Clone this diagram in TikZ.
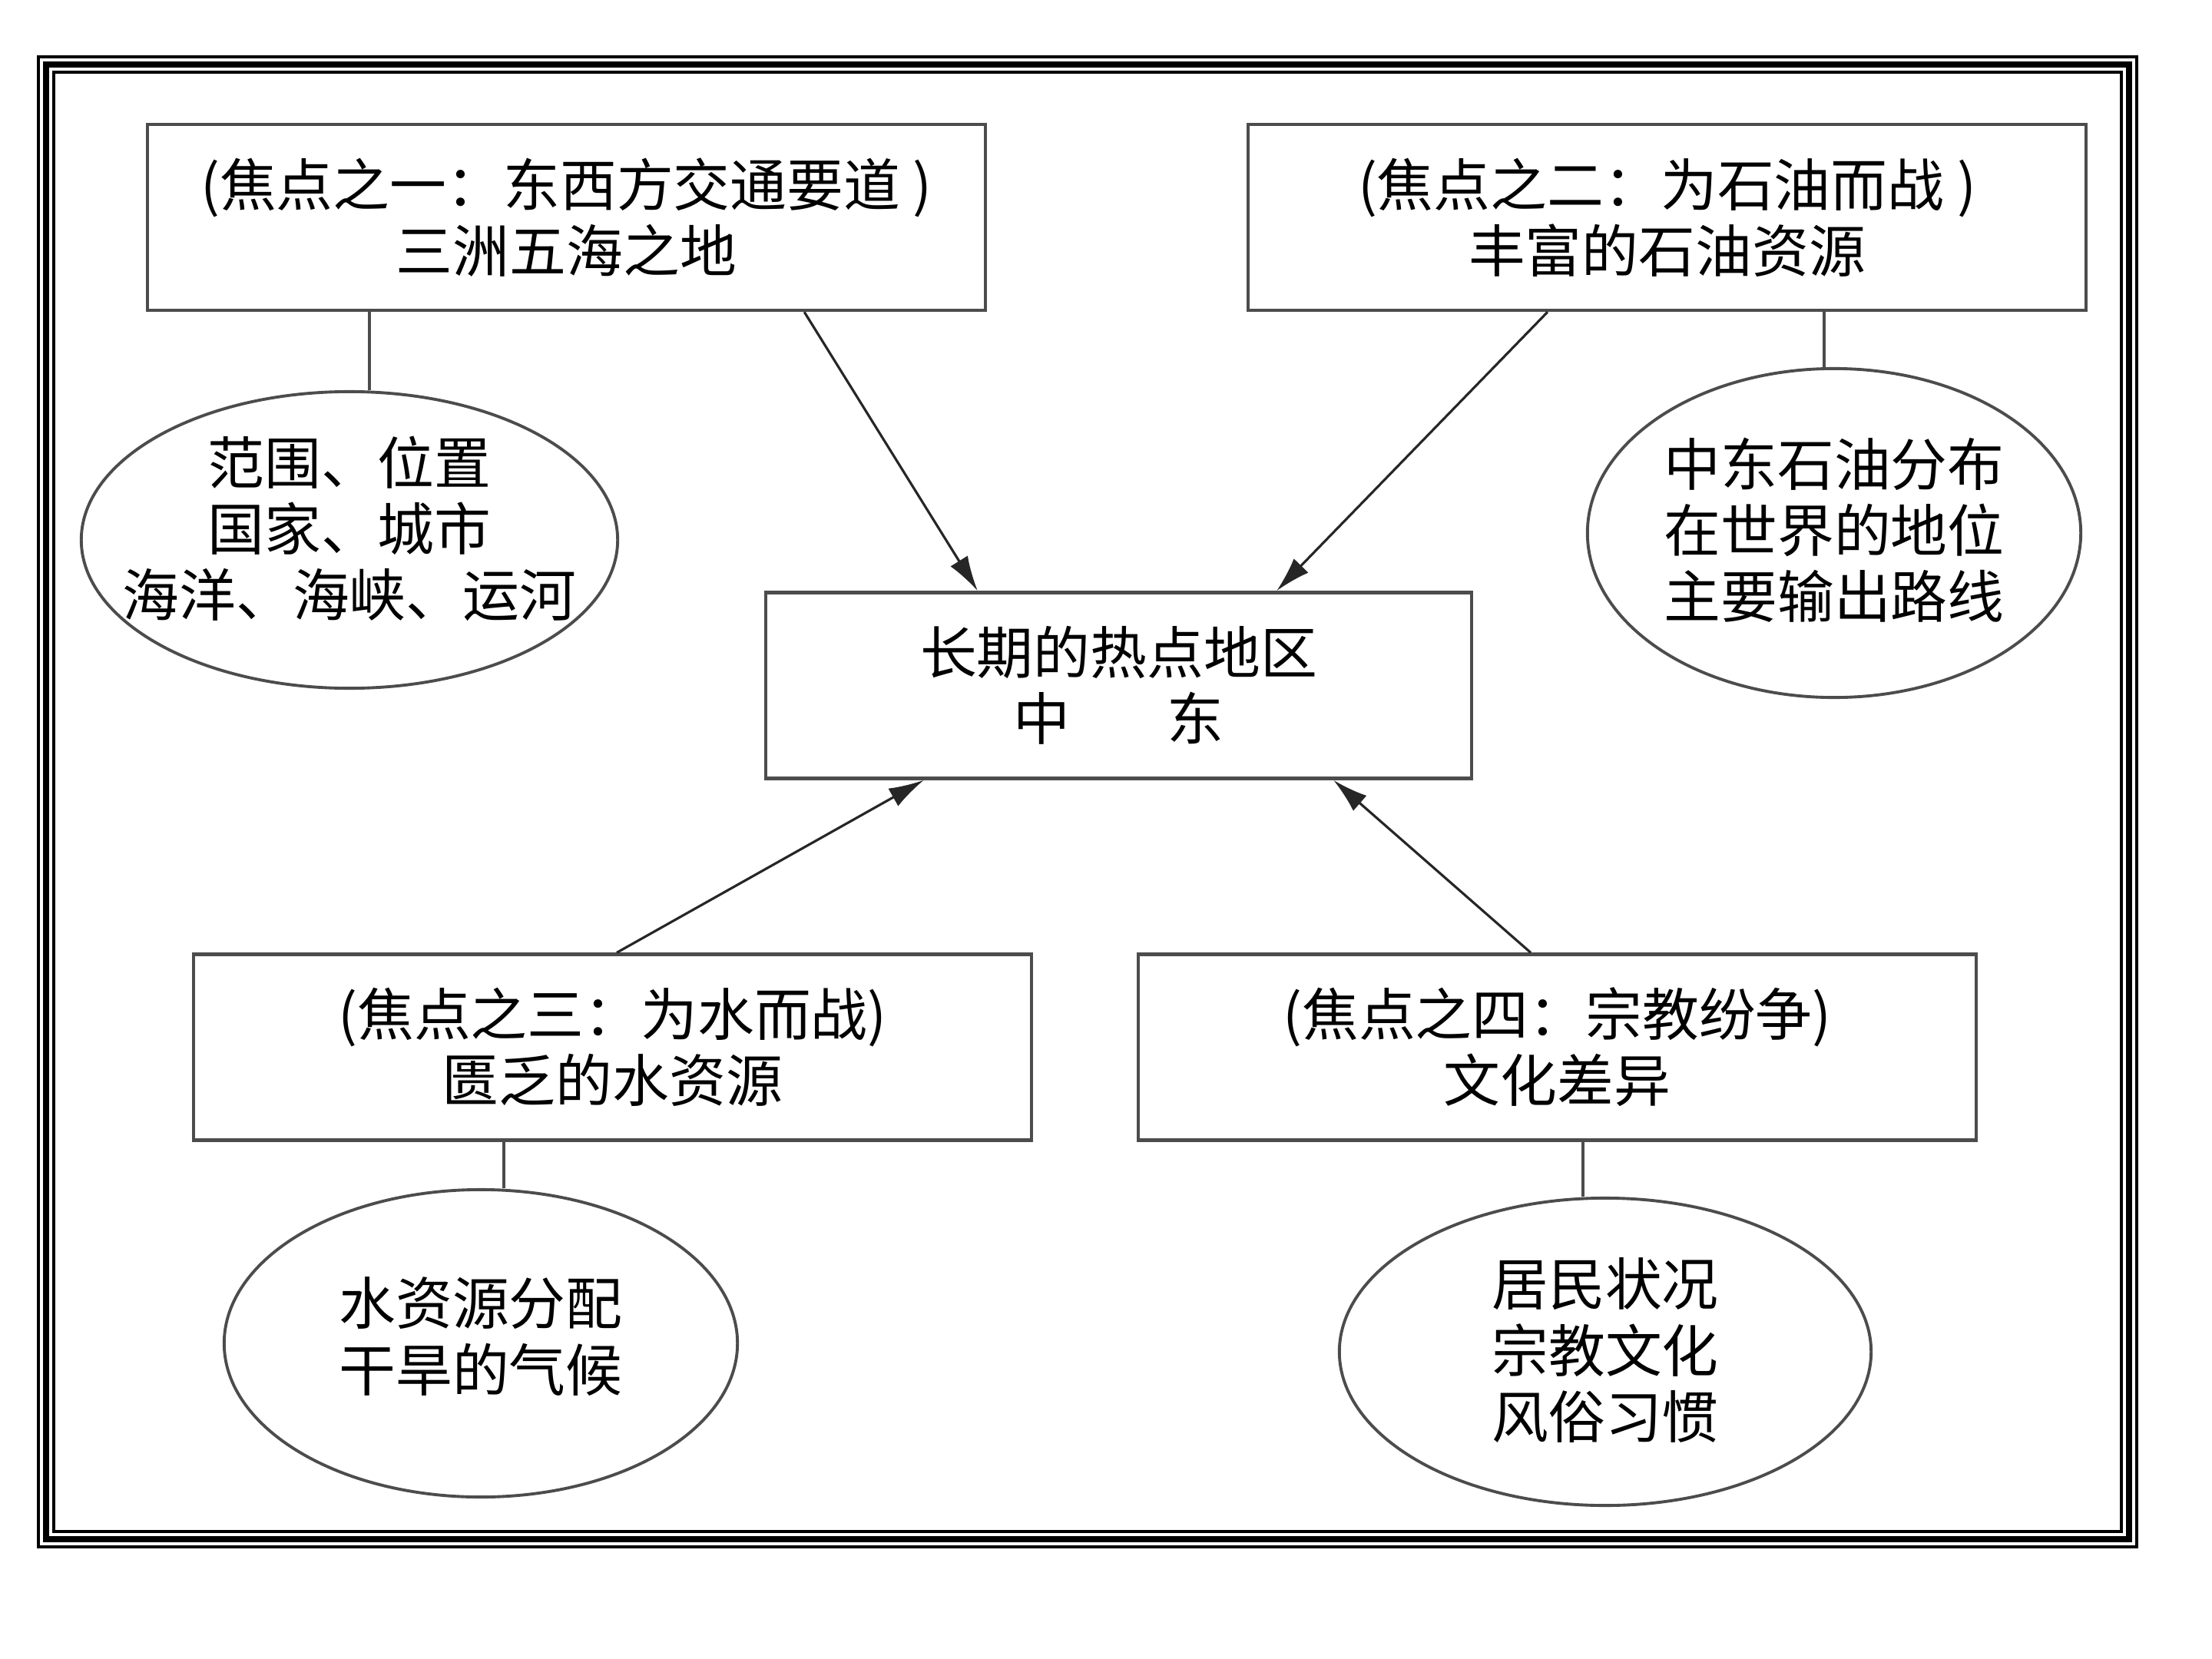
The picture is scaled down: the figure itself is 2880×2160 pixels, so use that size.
\documentclass[tikz,border=0pt]{standalone}
\usepackage{fontspec}
\setmainfont{Noto Sans CJK SC}
\usetikzlibrary{shapes.geometric,arrows.meta}

\begin{document}
\begin{tikzpicture}[x=0.01cm, y=-0.01cm,
      font=\fontsize{21pt}{24.5pt}\selectfont,
      box/.style={draw=black!70, line width=1.2pt, minimum width=10.9cm, minimum height=2.42cm, align=center, inner sep=0pt},
      oval/.style={draw=black!70, line width=1.1pt, ellipse, inner sep=0pt},
      txt/.style={align=center, inner sep=0pt},
      pfeil/.style={-{Latex[length=13pt,width=7.5pt]}, line width=0.9pt, draw=black!85},
      stiel/.style={line width=1pt, draw=black!70}
    ]
      \useasboundingbox (0,0) rectangle (2880,2160);
      % frame
      \draw[line width=0.04cm] (50.3,74.3) rectangle (2782,2013.7);
      \draw[line width=0.08cm] (60,83.7) rectangle (2772,2004);
      \draw[line width=0.04cm] (70,93.7) rectangle (2762,1993.7);

      \node[box] (eins) at (737.5,283) {(焦点之一：东西方交通要道 )\\三洲五海之地};
      \node[box] (zwei) at (2170.5,283) {(焦点之二：为石油而战 )\\丰富的石油资源};
      \node[box, minimum width=9.19cm] (mitte) at (1456.5,892.5) {长期的热点地区\\中\hspace{1.7em}东};
      \node[box] (drei) at (797.5,1363.5) {(焦点之三：为水而战)\\匮乏的水资源};
      \node[box] (vier) at (2027.5,1363.5) {(焦点之四：宗教纷争)\\文化差异};

      \node[oval, minimum width=6.98cm, minimum height=3.86cm] (o1) at (455,703) {};
      \node[txt] (t1) at (455,688) {范围、位置\\国家、城市\\海洋、海峡、运河};
      \node[oval, minimum width=6.42cm, minimum height=4.28cm] (o2) at (2388,694) {};
      \node[txt] (t2) at (2388,690) {中东石油分布\\在世界的地位\\主要输出路线};
      \node[oval, minimum width=6.68cm, minimum height=4.0cm] (o3) at (626,1749) {};
      \node[txt] (t3) at (626,1740) {水资源分配\\干旱的气候};
      \node[oval, minimum width=6.92cm, minimum height=4.0cm] (o4) at (2090,1760) {};
      \node[txt] (t4) at (2090,1758) {居民状况\\宗教文化\\风俗习惯};

      \draw[stiel] ([xshift=-2.565cm]eins.south) coordinate (s1) -- (s1 |- o1.north);
      \draw[stiel] ([xshift=2.045cm]zwei.south) coordinate (s2) -- (s2 |- o2.north);
      \draw[stiel] ([xshift=-1.415cm]drei.south) coordinate (s3) -- (s3 |- o3.north);
      \draw[stiel] ([xshift=0.335cm]vier.south) coordinate (s4) -- (s4 |- o4.north);

      \draw[pfeil] ([xshift=3.095cm]eins.south) -- ([xshift=-1.835cm]mitte.north);
      \draw[pfeil] ([xshift=-1.555cm]zwei.south) -- ([xshift=2.055cm]mitte.north);
      \draw[pfeil] ([xshift=0.055cm]drei.north) -- ([xshift=-2.535cm]mitte.south);
      \draw[pfeil] ([xshift=-0.345cm]vier.north) -- ([xshift=2.795cm]mitte.south);
    \end{tikzpicture}
\end{document}
